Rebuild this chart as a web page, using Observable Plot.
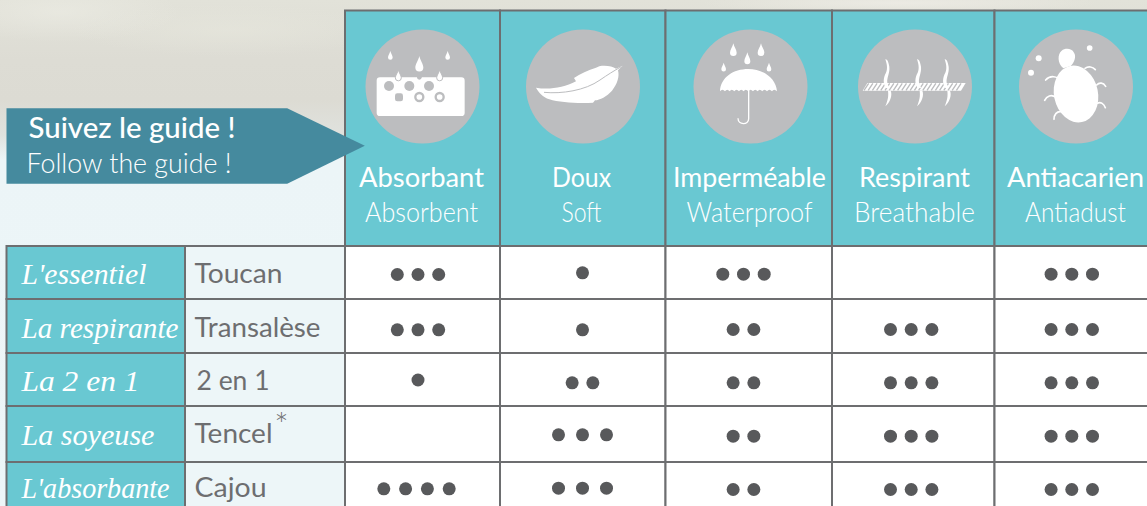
<!DOCTYPE html>
<html lang="fr">
<head>
<meta charset="utf-8">
<title>Suivez le guide !</title>
<script src="https://cdn.jsdelivr.net/npm/d3@7"></script>
<script src="https://cdn.jsdelivr.net/npm/@observablehq/plot@0.6"></script>
<style>
html,body{margin:0;padding:0;width:1147px;height:506px;overflow:hidden}
body{position:relative;background:
  radial-gradient(ellipse 120px 30px at 60px 12px,rgba(238,238,230,.55),transparent),
  radial-gradient(ellipse 160px 26px at 230px 30px,rgba(232,232,222,.5),transparent),
  radial-gradient(ellipse 200px 10px at 900px 3px,rgba(240,238,232,.7),transparent),
  linear-gradient(180deg,#e2e2d9 0,#dddcd4 60px,#dcdbd3 100px,#e0e2de 135px,#ecf5f7 160px,#edf6f8 506px)}
#chart svg{display:block;position:absolute;left:0;top:0;background:transparent}
</style>
</head>
<body>
<div id="chart"></div>
<script>
// Data
const criteria = ["Absorbant", "Doux", "Imperméable", "Respirant", "Antiacarien"];
const criteriaEn = ["Absorbent", "Soft", "Waterproof", "Breathable", "Antiadust"];
const ranges = ["L'essentiel", "La respirante", "La 2 en 1", "La soyeuse", "L'absorbante"];
const fabrics = ["Toucan", "Transalèse", "2 en 1", "Tencel", "Cajou"];
const absorbant = [3, 3, 1, 0, 4];
const doux = [1, 1, 2, 3, 3];
const impermeable = [3, 2, 2, 2, 2];
const respirant = [0, 3, 3, 3, 3];
const antiacarien = [3, 3, 3, 3, 3];
const scores = [absorbant, doux, impermeable, respirant, antiacarien];
const guideTitle = "Suivez le guide !";
const guideSubtitle = "Follow the guide !";

// Layout of the table, in the page's own units
const colEdges = [345, 500, 665.5, 832, 994.5, 1152];
const rowEdges = [246, 299, 353, 406, 462, 512];
const headCentre = [421, 581, 749, 914, 1075];
const iconCentre = [422, 582.5, 750, 914.5, 1075.5];
const dotCentre = [417.5, 582, 743, 910.7, 1071.3];
const dotRowY = [
  [274, 329.3, 379.5, 0, 488.3],
  [272.3, 329.3, 382.3, 434.3, 487.7],
  [273.7, 329, 382.3, 435.7, 489],
  [0, 329, 382.3, 435.7, 489],
  [273.7, 329, 382.3, 435.7, 489]
];
const rangeBase = [283, 337, 390.5, 444, 497];
const fabricBase = [282, 336, 389.5, 442, 496];
const fabricX = [194, 194, 196, 194, 194];
const teal = "#69c8d2", line = "#6d6e70", ink = "#58595b", grey = "#bcbdbf";
const fitWidths = new Map([
  ["Suivez le guide !", 207], ["Follow the guide !", 205],
  ["Absorbant", 125], ["Absorbent", 113], ["Doux", 59], ["Soft", 40],
  ["Imperméable", 153], ["Waterproof", 126], ["Respirant", 111], ["Breathable", 121],
  ["Antiacarien", 137], ["Antiadust", 101],
  ["Toucan", 88], ["Transalèse", 126], ["2 en 1", 73], ["Tencel", 78], ["Cajou", 72],
  ["L'essentiel", 125], ["La respirante", 157], ["La 2 en 1", 118], ["La soyeuse", 133], ["L'absorbante", 148]
]);

// Tables built from the arrays above
const headCells = criteria.map((c, i) => ({c, x1: colEdges[i], x2: colEdges[i + 1]}));
const rowIdx = d3.range(ranges.length);
const bodyCells = criteria.flatMap((c, i) => rowIdx.map(r => ({x1: colEdges[i], x2: colEdges[i + 1], y1: rowEdges[r], y2: rowEdges[r + 1]})));
const gap = (col, n) => n === 4 ? 21.8 : (col === 1 && n === 3 ? 24 : 20.7);
const dots = scores.flatMap((col, c) => col.flatMap((n, r) => d3.range(n).map(i => ({
  criterion: criteria[c], range: ranges[r], score: n,
  x: (n === 4 ? dotCentre[c] - 1.5 : dotCentre[c]) + (i - (n - 1) / 2) * gap(c, n),
  y: dotRowY[c][r]
}))));
const arrow = [[6, 107.7], [286.7, 107.7], [364.3, 145.3], [286.7, 183.3], [6, 183.3], [6, 107.7]];

// Pictograms, traced in 3x crop units and placed through the scales
function drop(cx, top, bot, w) {
  const h = bot - top;
  return `M${cx},${top}C${cx + w * .25},${top + h * .3} ${cx + w},${top + h * .5} ${cx + w},${top + h * .72}A${w},${w} 0 1 1 ${cx - w},${top + h * .72}C${cx - w},${top + h * .5} ${cx - w * .25},${top + h * .3} ${cx},${top}Z`;
}
function icons(index, {x, y}) {
  const root = d3.create("svg:g");
  const place = (ox, oy) => root.append("g").attr("transform", `translate(${x(ox)},${y(oy)}) scale(${1 / 3})`).attr("fill", "#fff");

  // Absorbant
  const a = place(0, 0);
  a.append("rect").attr("x", 1130).attr("y", 232).attr("width", 264).attr("height", 116).attr("rx", 10);
  for (const cx of [1167, 1228, 1287]) a.append("circle").attr("cx", cx).attr("cy", 258).attr("r", 15).attr("fill", grey);
  a.append("rect").attr("x", 1185).attr("y", 280).attr("width", 24).attr("height", 24).attr("rx", 7).attr("fill", grey);
  for (const cx of [1258, 1319]) {
    a.append("circle").attr("cx", cx).attr("cy", 291).attr("r", 12).attr("fill", "#fff").attr("stroke", grey).attr("stroke-width", 7);
  }
  a.append("path").attr("d", drop(1171, 153, 180, 7));
  a.append("path").attr("d", drop(1343, 153, 180, 7));
  a.append("path").attr("d", drop(1258, 168, 216, 12));
  a.append("circle").attr("cx", 1258).attr("cy", 232).attr("r", 7).attr("fill", grey);
  a.append("path").attr("d", drop(1195, 209, 243, 9)).attr("stroke", grey).attr("stroke-width", 3);
  a.append("path").attr("d", drop(1319, 209, 243, 9)).attr("stroke", grey).attr("stroke-width", 3);

  // Doux
  const d = place(520, 20);
  d.append("path").attr("d", "M48,203C85,210 130,204 168,184L162,174C180,162 205,150 228,143L238,139C258,135 278,140 288,146L308,137L294,151C299,170 292,192 276,212C260,230 240,240 225,241L219,248C180,251 120,248 88,238C68,231 56,217 48,203Z");
  d.append("path").attr("d", "M72,217C125,222 195,212 240,180C262,165 282,152 304,140").attr("fill", "none").attr("stroke", grey).attr("stroke-width", 3);

  // Imperméable
  const u = place(520, 20);
  u.append("path").attr("d", "M600,214C602,172 640,147 685,147C730,147 768,175 771,214Q762,204 756,214Q748,204 741,214Q733,204 727,214Q719,204 713,214Q705,204 699,214Q691,204 685,214Q677,204 671,214Q663,204 657,214Q649,204 643,214Q635,204 629,214Q621,204 615,214Q607,204 600,214Z");
  u.append("path").attr("d", "M686,205V296C686,316 654,316 654,295").attr("fill", "none").attr("stroke", "#fff").attr("stroke-width", 4);
  for (const [cx, t, b, w] of [[640, 70, 109, 10], [723, 70, 109, 10], [682, 97, 134, 9], [611, 128, 155, 7], [747, 128, 155, 7]])
    u.append("path").attr("d", drop(cx, t, b, w));

  // Respirant
  const r = place(850, 20);
  r.append("path").attr("d", "M38,212L52,189H347L333,212Z");
  const hatch = d3.range(56, 345, 12.6).map(v => `M${v},190L${v - 14},211`).join("");
  r.append("path").attr("d", hatch).attr("fill", "none").attr("stroke", grey).attr("stroke-width", 4);
  for (const ox of [0, 95, 178]) {
    r.append("path").attr("transform", `translate(${ox},0)`)
      .attr("d", "M106,118C112,116 116,128 118,140C120,160 110,172 112,188C113,195 118,200 118,204L108,204C98,190 100,172 108,158C114,145 110,130 106,118Z");
    r.append("path").attr("transform", `translate(${ox},0)`)
      .attr("d", "M122,212C128,225 120,248 106,259C114,240 116,228 114,212Z");
  }

  // Antiacarien
  const m = place(850, 20);
  m.append("ellipse").attr("cx", 678).attr("cy", 222).attr("rx", 66).attr("ry", 86).attr("transform", "rotate(-12 678 222)");
  m.append("path").attr("d", "M635,92C645,84 665,84 672,98C680,110 672,128 662,138L640,145C622,130 622,102 635,92Z");
  for (const [cx, cy, rr] of [[566, 115, 9], [719, 84, 8.5], [543, 158, 9]]) m.append("circle").attr("cx", cx).attr("cy", cy).attr("r", rr);
  m.append("path").attr("fill", "none").attr("stroke", "#fff").attr("stroke-width", 5).attr("stroke-linecap", "round")
    .attr("d", "M705,145C715,138 728,140 736,149M632,182C622,168 600,165 587,180M740,195C748,186 760,188 767,199M618,232C604,222 590,228 584,241M742,250C752,244 762,252 766,263M632,275C620,274 612,284 612,298");
  return root.node();
}

const textMark = (data, opts) => Plot.text(data, {lineAnchor: "bottom", fontFamily: "Lato, sans-serif", ...opts});

const chart = Plot.plot({
  width: 1147, height: 506, margin: 0,
  x: {domain: [0, 1147], range: [0, 1147], axis: null},
  y: {domain: [0, 506], range: [0, 506], axis: null},
  marks: [
    // Header and body cells
    Plot.rect(headCells, {x1: "x1", x2: "x2", y1: () => 10.5, y2: () => rowEdges[0], fill: teal, stroke: line, strokeWidth: 2}),
    Plot.rect(bodyCells, {x1: "x1", x2: "x2", y1: "y1", y2: "y2", fill: "#fff", stroke: line, strokeWidth: 2}),
    Plot.rect(rowIdx, {x1: () => 6.5, x2: () => 185, y1: r => rowEdges[r], y2: r => rowEdges[r + 1], fill: teal, stroke: line, strokeWidth: 2}),
    Plot.rect(rowIdx, {x1: () => 185, x2: () => colEdges[0], y1: r => rowEdges[r], y2: r => rowEdges[r + 1], fill: "#edf6f8", stroke: line, strokeWidth: 2}),
    // Guide arrow
    Plot.line(arrow, {x: d => d[0], y: d => d[1], fill: "#458a9e", stroke: "none"}),
    textMark([guideTitle], {x: () => 28, y: () => 137, textAnchor: "start", fontSize: 29, fontWeight: 500, fill: "#fff", text: d => d}),
    textMark([guideSubtitle], {x: () => 26, y: () => 172, textAnchor: "start", fontSize: 28, fontWeight: 300, fill: "#fff", text: d => d}),
    // Pictograms
    Plot.dot(criteria, {x: (d, i) => iconCentre[i], y: () => 86, r: 57, fill: grey, stroke: "none"}),
    icons,
    // Column labels
    textMark(criteria, {x: (d, i) => headCentre[i], y: () => 186, fontSize: 27, fontWeight: 400, fill: "#fff", text: d => d}),
    textMark(criteriaEn, {x: (d, i) => headCentre[i], y: () => 221, fontSize: 27, fontWeight: 300, fill: "#fff", text: d => d}),
    // Row labels
    Plot.text(ranges, {x: () => 21, y: (d, i) => rangeBase[i], lineAnchor: "bottom", textAnchor: "start", fontFamily: "Liberation Serif, serif", fontStyle: "italic", fontSize: 29, fill: "#fff", text: d => d}),
    textMark(fabrics, {x: (d, i) => fabricX[i], y: (d, i) => fabricBase[i], textAnchor: "start", fontSize: 27, fontWeight: 400, fill: line, text: d => d}),
    textMark(["*"], {x: () => 281, y: () => 436, fontSize: 34, fontWeight: 300, fill: line, text: d => d}),
    // Score dots
    Plot.dot(dots, {x: "x", y: "y", r: 6.5, fill: ink, stroke: "none"})
  ]
});

document.getElementById("chart").append(chart);
chart.querySelectorAll("text").forEach(t => {
  const w = fitWidths.get(t.textContent.trim());
  if (w) { t.setAttribute("textLength", w); t.setAttribute("lengthAdjust", "spacingAndGlyphs"); }
});
</script>
</body>
</html>
